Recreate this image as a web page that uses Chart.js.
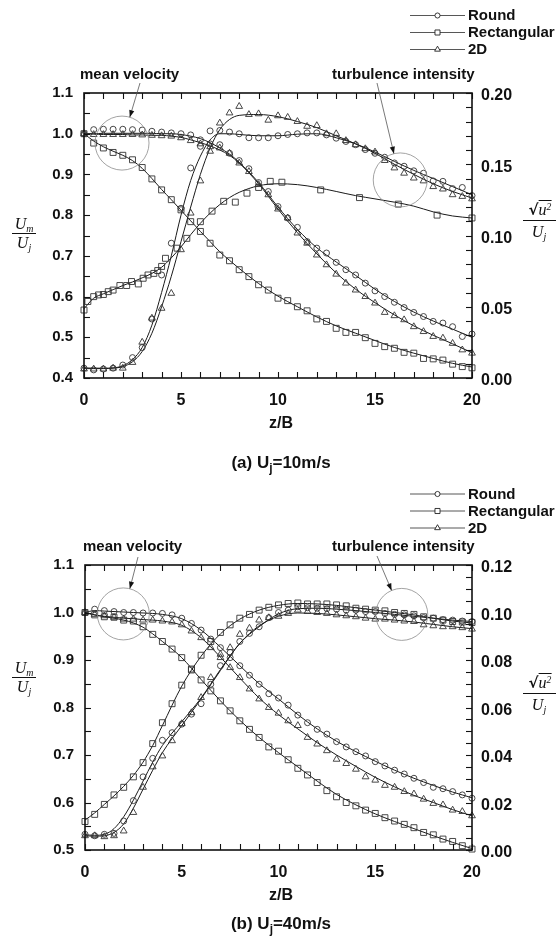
<!DOCTYPE html>
<html><head><meta charset="utf-8">
<script src="https://cdn.jsdelivr.net/npm/chart.js@4.4.1/dist/chart.umd.min.js"></script>
<style>
html,body{margin:0;padding:0;background:#fff;}
#page{position:relative;width:558px;height:941px;overflow:hidden;font-family:"Liberation Sans",Arial,sans-serif;color:#111;background:#fff;}
canvas{position:absolute;left:0;}
.t{position:absolute;transform:translate(-50%,-50%);white-space:nowrap;font-weight:bold;}
.cap{font-size:17px;}
.cap sub{font-size:0.7em;vertical-align:-0.35em;line-height:0;}
.zb{font-size:16px;}
.serif{position:absolute;transform:translate(-50%,-50%);white-space:nowrap;font-family:"Liberation Serif","Times New Roman",serif;font-style:italic;font-size:16px;line-height:1;}
.serif sub{font-size:0.62em;vertical-align:-0.3em;line-height:0;}
.fl{position:absolute;height:0;border-top:1.2px solid #111;}
.rad{font-style:normal;font-weight:bold;font-family:"DejaVu Sans",sans-serif;font-size:15px;}
.ov{border-top:1.2px solid #111;padding-top:0px;}
.ov sup{font-size:0.6em;vertical-align:0.5em;line-height:0;}
</style></head>
<body>
<div id="page">
<canvas id="ca" width="558" height="470" style="top:0px"></canvas>
<canvas id="cb" width="558" height="471" style="top:470px"></canvas>

<div class="t zb" style="left:281px;top:423px">z/B</div>
<div class="t cap" style="left:281px;top:463px">(a) U<sub>j</sub>=10m/s</div>
<div class="t zb" style="left:281px;top:895px">z/B</div>
<div class="t cap" style="left:281px;top:924px">(b) U<sub>j</sub>=40m/s</div>

<div class="serif" style="left:24px;top:224px">U<sub>m</sub></div>
<div class="fl" style="left:12px;width:24px;top:233px"></div>
<div class="serif" style="left:24px;top:243px">U<sub>j</sub></div>

<div class="serif" style="left:24px;top:668px">U<sub>m</sub></div>
<div class="fl" style="left:12px;width:24px;top:677px"></div>
<div class="serif" style="left:24px;top:687px">U<sub>j</sub></div>

<div class="serif" style="left:540px;top:210px"><span class="rad">√</span><span class="ov">u<sup>2</sup></span></div>
<div class="fl" style="left:523px;width:33px;top:220px"></div>
<div class="serif" style="left:539px;top:232px">U<sub>j</sub></div>

<div class="serif" style="left:540px;top:683px"><span class="rad">√</span><span class="ov">u<sup>2</sup></span></div>
<div class="fl" style="left:523px;width:33px;top:693px"></div>
<div class="serif" style="left:539px;top:705px">U<sub>j</sub></div>
</div>

<script>
// ---------- DATA ----------
// marker positions z/B (half-step grid)
const zHalf = [0,0.5,1,1.5,2,2.5,3,3.5,4,4.5,5,5.5,6,6.5,7,7.5,8,8.5,9,9.5,10,10.5,11,11.5,12,12.5,13,13.5,14,14.5,15,15.5,16,16.5,17,17.5,18,18.5,19,19.5,20];

// Panel (a) Uj = 10 m/s -- mean velocity Um/Uj (left axis)
const roundMeanA = [1.0,1.01,1.011,1.011,1.011,1.01,1.009,1.006,1.004,1.002,1.0,0.997,0.985,0.975,0.973,0.952,0.934,0.914,0.88,0.858,0.821,0.793,0.77,0.735,0.719,0.707,0.684,0.666,0.653,0.633,0.614,0.6,0.586,0.573,0.561,0.551,0.539,0.535,0.526,0.502,0.508];
const rectMeanA  = [1.0,0.977,0.965,0.954,0.947,0.936,0.917,0.889,0.862,0.838,0.813,0.784,0.76,0.731,0.702,0.688,0.666,0.649,0.629,0.616,0.596,0.59,0.575,0.565,0.545,0.539,0.522,0.512,0.512,0.499,0.485,0.477,0.473,0.463,0.461,0.448,0.447,0.444,0.434,0.428,0.425];
const twoDMeanA  = [1.0,0.998,0.998,0.998,0.998,0.998,0.997,0.996,0.995,0.994,0.99,0.983,0.975,0.968,0.965,0.952,0.928,0.907,0.875,0.85,0.815,0.793,0.756,0.731,0.702,0.678,0.655,0.633,0.616,0.6,0.584,0.561,0.553,0.543,0.526,0.514,0.502,0.498,0.485,0.469,0.461];
// Panel (a) turbulence intensity (right axis)
const roundTurbA = [0.0069,0.0057,0.0063,0.0069,0.0091,0.0143,0.0214,0.0414,0.0723,0.0946,0.1191,0.1474,0.1626,0.1734,0.1737,0.1726,0.1714,0.1686,0.1686,0.1686,0.17,0.1709,0.1714,0.172,0.172,0.1706,0.1683,0.166,0.1637,0.1603,0.1577,0.1549,0.1509,0.1486,0.1454,0.1437,0.1383,0.138,0.1329,0.1337,0.128];
const twoDTurbA  = [0.0063,0.0063,0.0063,0.0069,0.0069,0.0109,0.0251,0.042,0.0489,0.0594,0.09,0.1157,0.1383,0.1591,0.1789,0.186,0.1906,0.1849,0.1854,0.1809,0.184,0.1829,0.18,0.1766,0.1771,0.1714,0.1714,0.1666,0.1637,0.1609,0.1586,0.1526,0.1474,0.1437,0.1403,0.1383,0.1343,0.1326,0.1286,0.1274,0.1257];
const rectTurbZA = [0,0.2,0.5,0.75,1,1.25,1.5,1.85,2.2,2.45,2.8,3.05,3.3,3.6,3.8,4,4.2,4.8,5.3,6,6.6,7.2,7.8,8.4,9,9.6,10.2,12.2,14.2,16.2,18.2,20];
const rectTurbA  = [0.0477,0.0537,0.0571,0.0583,0.0586,0.0606,0.0617,0.0649,0.0649,0.0677,0.066,0.07,0.0723,0.0734,0.0754,0.0783,0.084,0.0911,0.098,0.1097,0.1171,0.124,0.1234,0.1297,0.1337,0.138,0.1374,0.132,0.1266,0.122,0.1143,0.1123];
// Panel (a) fitted curves
const zFitA = [0,0.5,1,1.5,2,2.5,3,3.5,4,4.5,5,5.5,6,6.5,7,7.5,8,9,10,11,12,13,14,15,16,17,18,19,20];
const roundMeanFitA = [1.0,1.0,1.001,1.001,1.001,1.001,1.001,1.001,1.0,1.0,0.998,0.994,0.988,0.978,0.965,0.95,0.93,0.88,0.82,0.765,0.72,0.685,0.652,0.618,0.588,0.562,0.54,0.52,0.5];
const twoDMeanFitA  = [1.0,0.999,0.998,0.998,0.998,0.997,0.997,0.996,0.996,0.994,0.991,0.985,0.978,0.97,0.96,0.947,0.928,0.877,0.815,0.757,0.705,0.658,0.618,0.585,0.555,0.528,0.505,0.484,0.462];
const rectMeanFitA  = [1.0,0.982,0.968,0.957,0.947,0.934,0.915,0.89,0.863,0.838,0.812,0.786,0.76,0.735,0.71,0.689,0.669,0.632,0.601,0.575,0.55,0.528,0.51,0.492,0.475,0.461,0.448,0.436,0.427];
const roundTurbFitA = [0.0071,0.0069,0.0069,0.0071,0.0086,0.0129,0.0214,0.0371,0.06,0.0857,0.1143,0.1386,0.1557,0.1671,0.1714,0.1714,0.1709,0.17,0.17,0.1711,0.1714,0.1686,0.1643,0.1586,0.152,0.1457,0.14,0.1343,0.1286];
const twoDTurbFitA  = [0.0066,0.0066,0.0066,0.0069,0.008,0.0114,0.0186,0.0314,0.05,0.0714,0.0957,0.12,0.1429,0.1614,0.1743,0.1814,0.1843,0.1849,0.1834,0.18,0.1757,0.17,0.1643,0.1577,0.15,0.1429,0.1363,0.1309,0.1263];
const rectTurbFitA  = [0.0486,0.056,0.0591,0.062,0.0649,0.0674,0.0703,0.0734,0.0777,0.0843,0.092,0.1006,0.1086,0.1157,0.1217,0.1266,0.1303,0.1349,0.1363,0.1357,0.1337,0.1309,0.128,0.1257,0.1234,0.1206,0.1166,0.1137,0.1123];

// Panel (b) Uj = 40 m/s
const roundMeanB = [1.0,1.007,1.004,1.002,1.0,1.0,0.999,0.999,0.998,0.995,0.988,0.977,0.963,0.944,0.926,0.905,0.888,0.868,0.849,0.829,0.82,0.805,0.784,0.768,0.754,0.744,0.728,0.717,0.707,0.698,0.686,0.677,0.668,0.66,0.651,0.642,0.632,0.629,0.623,0.616,0.609];
const rectMeanB  = [1.0,0.995,0.991,0.99,0.984,0.982,0.97,0.954,0.939,0.923,0.905,0.881,0.858,0.835,0.814,0.793,0.772,0.754,0.737,0.717,0.708,0.69,0.672,0.658,0.642,0.625,0.612,0.6,0.593,0.584,0.577,0.568,0.561,0.554,0.547,0.537,0.532,0.523,0.518,0.509,0.502];
const twoDMeanB  = [1.0,0.996,0.993,0.99,0.986,0.986,0.984,0.984,0.982,0.98,0.974,0.961,0.947,0.926,0.905,0.884,0.863,0.839,0.818,0.8,0.788,0.772,0.762,0.737,0.723,0.709,0.691,0.682,0.67,0.654,0.647,0.636,0.632,0.623,0.618,0.607,0.598,0.595,0.584,0.581,0.572];
const roundTurbB = [0.0066,0.006,0.0066,0.007,0.0122,0.0208,0.0308,0.0386,0.0462,0.0494,0.053,0.0572,0.0616,0.0698,0.0776,0.0832,0.0878,0.0912,0.094,0.0978,0.1,0.101,0.1024,0.102,0.1018,0.1016,0.1014,0.101,0.101,0.1004,0.1004,0.0996,0.0992,0.099,0.0986,0.0978,0.0976,0.097,0.0968,0.0964,0.0962];
const rectTurbB  = [0.012,0.015,0.0192,0.0232,0.0264,0.0308,0.0368,0.0448,0.0536,0.0616,0.0694,0.0758,0.082,0.0878,0.0916,0.0948,0.0976,0.0992,0.101,0.1022,0.1032,0.1038,0.104,0.1036,0.1036,0.1036,0.1032,0.1028,0.1018,0.1014,0.101,0.1007,0.1,0.0996,0.0992,0.0982,0.0976,0.0968,0.0962,0.096,0.0958];
const twoDTurbB  = [0.006,0.006,0.0056,0.006,0.008,0.0158,0.0264,0.035,0.0396,0.046,0.0532,0.0578,0.0642,0.0726,0.0824,0.0852,0.0908,0.0934,0.0968,0.0978,0.0984,0.0996,0.101,0.1004,0.1,0.0996,0.099,0.0986,0.0982,0.0976,0.0972,0.0972,0.0968,0.0964,0.0962,0.0948,0.0944,0.094,0.094,0.0936,0.093];
const zFitB = [0,0.5,1,1.5,2,2.5,3,3.5,4,5,6,7,8,9,10,11,12,13,14,15,16,17,18,19,20];
const roundMeanFitB = [1.0,1.004,1.003,1.002,1.001,1.0,0.999,0.998,0.996,0.987,0.963,0.927,0.888,0.85,0.818,0.785,0.755,0.729,0.707,0.687,0.668,0.651,0.636,0.622,0.61];
const twoDMeanFitB  = [1.0,0.995,0.992,0.99,0.988,0.987,0.985,0.984,0.982,0.973,0.947,0.906,0.862,0.82,0.785,0.755,0.726,0.7,0.676,0.653,0.633,0.615,0.6,0.585,0.572];
const rectMeanFitB  = [1.0,0.995,0.991,0.988,0.984,0.978,0.969,0.955,0.939,0.905,0.859,0.814,0.773,0.737,0.705,0.675,0.645,0.617,0.595,0.576,0.56,0.545,0.53,0.516,0.503];
const roundTurbFitB = [0.0064,0.0062,0.0066,0.009,0.014,0.021,0.029,0.037,0.044,0.054,0.064,0.076,0.087,0.094,0.0994,0.1016,0.1018,0.1014,0.1008,0.1,0.0992,0.0984,0.0976,0.0968,0.0962];
const twoDTurbFitB  = [0.006,0.0058,0.006,0.0074,0.011,0.0176,0.0256,0.0336,0.041,0.0524,0.0636,0.0756,0.087,0.0944,0.0984,0.0998,0.0996,0.099,0.0982,0.0974,0.0968,0.096,0.095,0.094,0.0932];
const rectTurbFitB  = [0.0126,0.0156,0.0192,0.0228,0.0268,0.0314,0.037,0.044,0.0524,0.069,0.0816,0.091,0.0972,0.101,0.103,0.1038,0.1036,0.103,0.102,0.101,0.1,0.099,0.0976,0.0964,0.0956];

const seriesNames = ['Round','Rectangular','2D'];
const annoTexts = ['mean velocity','turbulence intensity'];

// ---------- HELPERS ----------
const FONT = '"Liberation Sans", Arial, sans-serif';
const STYLE = {Round:'circle', Rectangular:'rect', '2D':'triangle'};
const RAD = {circle:3, rect:4.2, triangle:3.9};
const INK = '#1a1a1a';
function pts(xs, ys){ return xs.map((x,i)=>({x:x, y:ys[i]})); }
function markerDS(xs, ys, name, axis){
  const st = STYLE[name];
  return {label:name, data:pts(xs,ys), yAxisID:axis, showLine:false,
    pointStyle:st, pointRadius:RAD[st], pointHoverRadius:RAD[st],
    pointBorderColor:'#333', pointBackgroundColor:'rgba(255,255,255,0)', pointBorderWidth:0.9, clip:false};
}
function fitDS(xs, ys, axis){
  return {data:pts(xs,ys), yAxisID:axis, showLine:true, pointRadius:0, pointHoverRadius:0,
    borderColor:INK, borderWidth:1, cubicInterpolationMode:'monotone', clip:false};
}

const frame = {
  id:'frame',
  afterDraw(chart, args, o){
    const {ctx, chartArea:a, scales} = chart;
    const x = scales.x, y = scales.y, y2 = scales.y2;
    ctx.save();
    ctx.strokeStyle = '#111';
    ctx.lineWidth = 1.6;
    ctx.strokeRect(a.left, a.top, a.right-a.left, a.bottom-a.top);
    ctx.lineWidth = 1.1;
    const L = 6;
    const seg = (x0,y0,x1,y1)=>{ctx.beginPath();ctx.moveTo(x0,y0);ctx.lineTo(x1,y1);ctx.stroke();};
    const each = (sc, step, fn)=>{
      const n = Math.round((sc.max - sc.min)/step);
      for (let i=0;i<=n;i++) fn(Math.round(sc.getPixelForValue(sc.min + i*step)) + 0.5);
    };
    each(x, o.xMinor, p=>{ seg(p,a.top,p,a.top+L); seg(p,a.bottom,p,a.bottom-L); });
    each(y, o.yMinor, p=>seg(a.left,p,a.left+L,p));
    each(y2, o.y2Minor, p=>seg(a.right,p,a.right-L,p));
    ctx.restore();
  }
};

const notes = {
  id:'notes',
  afterDraw(chart, args, o){
    const {ctx, scales} = chart;
    ctx.save();
    o.items.forEach(it=>{
      const cx = scales.x.getPixelForValue(it.z), cy = scales[it.axis].getPixelForValue(it.v);
      ctx.strokeStyle = '#8c8c8c'; ctx.lineWidth = 0.8;
      ctx.beginPath(); ctx.arc(cx, cy, it.r, 0, Math.PI*2); ctx.stroke();
      ctx.font = 'bold 15px ' + FONT; ctx.fillStyle = '#111';
      ctx.textAlign = 'left'; ctx.textBaseline = 'middle';
      ctx.fillText(it.text, it.tx, it.ty);
      const ang = Math.atan2(cy - it.ay, cx - it.ax);
      const ex = cx - it.r*Math.cos(ang), ey = cy - it.r*Math.sin(ang);
      ctx.strokeStyle = '#555'; ctx.lineWidth = 0.8;
      ctx.beginPath(); ctx.moveTo(it.ax, it.ay); ctx.lineTo(ex, ey); ctx.stroke();
      const hl = 7, hw = 2.6;
      const bx = ex - hl*Math.cos(ang), by = ey - hl*Math.sin(ang);
      ctx.fillStyle = '#111';
      ctx.beginPath(); ctx.moveTo(ex, ey);
      ctx.lineTo(bx + hw*Math.sin(ang), by - hw*Math.cos(ang));
      ctx.lineTo(bx - hw*Math.sin(ang), by + hw*Math.cos(ang));
      ctx.closePath(); ctx.fill();
    });
    ctx.restore();
  }
};

const keyBox = {
  id:'keyBox',
  afterDraw(chart, args, o){
    const ctx = chart.ctx;
    ctx.save();
    seriesNames.forEach((name, i)=>{
      const yy = o.y0 + i*o.dy;
      ctx.strokeStyle = '#444'; ctx.lineWidth = 0.9;
      ctx.beginPath(); ctx.moveTo(o.x0, yy); ctx.lineTo(o.x1, yy); ctx.stroke();
      const st = STYLE[name];
      ctx.strokeStyle = '#222'; ctx.fillStyle = '#fff'; ctx.lineWidth = 0.9;
      Chart.helpers.drawPoint(ctx, {pointStyle:st, radius:RAD[st]*0.85, borderWidth:0.9, rotation:0}, (o.x0+o.x1)/2, yy);
      ctx.font = 'bold 15px ' + FONT; ctx.fillStyle = '#111';
      ctx.textAlign = 'left'; ctx.textBaseline = 'middle';
      ctx.fillText(name, o.tx, yy + 0.5);
    });
    ctx.restore();
  }
};

function scalesCfg(yMin, yMax, yStep, y2Max, y2Step, y2Dec, leftW){
  const tickFont = {family:FONT, size:16, weight:'bold'};
  return {
    x:{type:'linear', min:0, max:20,
       ticks:{stepSize:5, font:tickFont, color:'#111', padding:13, maxRotation:0, callback:v=>String(v)},
       grid:{display:false, drawTicks:false}, border:{display:false},
       afterFit:s=>{ s.height = s.chart.height - (s.chart.options.plotBottom); }},
    y:{type:'linear', position:'left', min:yMin, max:yMax,
       ticks:{stepSize:yStep, font:{family:FONT, size:15, weight:'bold'}, color:'#111', padding:11, callback:v=>Number(v).toFixed(1)},
       grid:{display:false, drawTicks:false}, border:{display:false},
       afterFit:s=>{ s.width = leftW; }},
    y2:{type:'linear', position:'right', min:0, max:y2Max,
       ticks:{stepSize:y2Step, font:tickFont, color:'#111', padding:9, labelOffset:3, callback:v=>Number(v).toFixed(y2Dec)},
       grid:{display:false, drawTicks:false}, border:{display:false},
       afterFit:s=>{ s.width = 86; }}
  };
}

function makeChart(id, datasets, sc, plotTop, plotBottom, minor, items, key){
  return new Chart(document.getElementById(id), {
    type:'scatter',
    data:{datasets:datasets},
    options:{
      responsive:false, animation:false, events:[],
      plotBottom: plotBottom,
      layout:{padding:{top:plotTop, left:0, right:0, bottom:0}},
      scales:sc,
      plugins:{legend:{display:false}, tooltip:{enabled:false}, title:{display:false},
        frame:minor, notes:{items:items}, keyBox:key}
    },
    plugins:[frame, notes, keyBox]
  });
}

// ---------- PANEL A ----------
const dsA = [
  markerDS(zHalf, roundMeanA, 'Round', 'y'),
  markerDS(zHalf, rectMeanA, 'Rectangular', 'y'),
  markerDS(zHalf, twoDMeanA, '2D', 'y'),
  markerDS(zHalf, roundTurbA, 'Round', 'y2'),
  markerDS(rectTurbZA, rectTurbA, 'Rectangular', 'y2'),
  markerDS(zHalf, twoDTurbA, '2D', 'y2'),
  fitDS(zFitA, roundMeanFitA, 'y'),
  fitDS(zFitA, rectMeanFitA, 'y'),
  fitDS(zFitA, twoDMeanFitA, 'y'),
  fitDS(zFitA, roundTurbFitA, 'y2'),
  fitDS(zFitA, rectTurbFitA, 'y2'),
  fitDS(zFitA, twoDTurbFitA, 'y2')
];
makeChart('ca', dsA, scalesCfg(0.4, 1.1, 0.1, 0.2, 0.05, 2, 84), 93, 378,
  {xMinor:1, yMinor:0.05, y2Minor:0.01},
  [{text:annoTexts[0], tx:80, ty:75, z:1.96, v:0.977, axis:'y', r:27, ax:140, ay:83},
   {text:annoTexts[1], tx:332, ty:75, z:16.3, v:0.139, axis:'y2', r:27, ax:377, ay:83}],
  {x0:410, x1:465, tx:468, y0:15.5, dy:17});

// ---------- PANEL B ----------
const dsB = [
  markerDS(zHalf, roundMeanB, 'Round', 'y'),
  markerDS(zHalf, rectMeanB, 'Rectangular', 'y'),
  markerDS(zHalf, twoDMeanB, '2D', 'y'),
  markerDS(zHalf, roundTurbB, 'Round', 'y2'),
  markerDS(zHalf, rectTurbB, 'Rectangular', 'y2'),
  markerDS(zHalf, twoDTurbB, '2D', 'y2'),
  fitDS(zFitB, roundMeanFitB, 'y'),
  fitDS(zFitB, rectMeanFitB, 'y'),
  fitDS(zFitB, twoDMeanFitB, 'y'),
  fitDS(zFitB, roundTurbFitB, 'y2'),
  fitDS(zFitB, rectTurbFitB, 'y2'),
  fitDS(zFitB, twoDTurbFitB, 'y2')
];
makeChart('cb', dsB, scalesCfg(0.5, 1.1, 0.1, 0.12, 0.02, 2, 85), 95, 380,
  {xMinor:1, yMinor:0.05, y2Minor:0.005},
  [{text:annoTexts[0], tx:83, ty:77, z:1.98, v:0.997, axis:'y', r:26, ax:138, ay:87},
   {text:annoTexts[1], tx:332, ty:77, z:16.37, v:0.0992, axis:'y2', r:26, ax:377, ay:86}],
  {x0:410, x1:465, tx:468, y0:24, dy:17});
</script>
</body></html>
